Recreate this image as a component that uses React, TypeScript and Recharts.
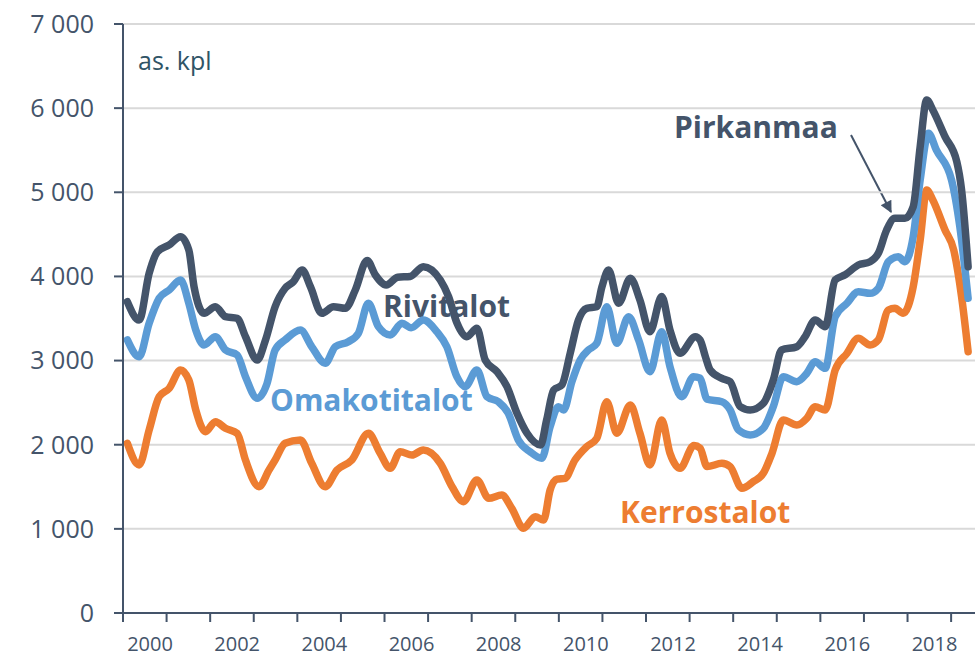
import React from 'react';
import { LineChart, Line, XAxis, YAxis, CartesianGrid } from 'recharts';

// [vuosi, asuntoja kpl], luettu kuvasta
const pirkanmaa: [number, number][] = [
  [2000.1, 3700], [2000.37, 3482], [2000.6, 4037], [2000.79, 4294], [2001.06, 4374], [2001.32, 4473],
  [2001.51, 4314], [2001.63, 3878], [2001.86, 3562], [2002.12, 3640], [2002.35, 3522], [2002.62, 3502],
  [2002.81, 3284], [2003.08, 3007], [2003.27, 3245], [2003.49, 3640], [2003.72, 3859], [2003.91, 3938],
  [2004.11, 4077], [2004.3, 3878], [2004.56, 3562], [2004.83, 3640], [2005.1, 3621], [2005.33, 3839],
  [2005.6, 4190], [2005.79, 4017], [2006.04, 3898], [2006.3, 3990], [2006.59, 4000], [2006.89, 4116],
  [2007.28, 3958], [2007.47, 3760], [2007.66, 3450], [2007.89, 3284], [2008.12, 3384], [2008.31, 3007],
  [2008.58, 2868], [2008.81, 2690], [2009.04, 2373], [2009.27, 2136], [2009.58, 1997], [2009.72, 2294],
  [2009.88, 2650], [2010.07, 2710], [2010.26, 3086], [2010.45, 3482], [2010.64, 3621], [2010.87, 3640],
  [2010.99, 3878], [2011.14, 4077], [2011.37, 3681], [2011.64, 3978], [2011.86, 3720], [2012.09, 3343],
  [2012.36, 3760], [2012.55, 3363], [2012.78, 3086], [2013.13, 3284], [2013.24, 3245], [2013.36, 3050],
  [2013.47, 2888], [2013.74, 2789], [2013.93, 2749], [2014.16, 2452], [2014.39, 2413], [2014.69, 2492],
  [2014.92, 2769], [2015.11, 3126], [2015.46, 3165], [2015.65, 3284], [2015.88, 3482], [2016.11, 3403],
  [2016.34, 3958], [2016.57, 4020], [2016.87, 4136], [2017.14, 4175], [2017.33, 4275], [2017.52, 4552],
  [2017.71, 4691], [2017.94, 4691], [2018.13, 4829], [2018.29, 5542], [2018.44, 6097], [2018.58, 5978],
  [2018.86, 5661], [2019.13, 5364], [2019.24, 5027], [2019.39, 4116],
];

const omakotitalot: [number, number][] = [
  [2000.1, 3245], [2000.37, 3046], [2000.6, 3443], [2000.83, 3740], [2001.06, 3839], [2001.32, 3958],
  [2001.51, 3681], [2001.67, 3363], [2001.86, 3185], [2002.12, 3284], [2002.35, 3126], [2002.62, 3066],
  [2002.81, 2809], [2003.08, 2552], [2003.3, 2720], [2003.49, 3126], [2003.72, 3245], [2004.07, 3363],
  [2004.33, 3165], [2004.64, 2968], [2004.87, 3165], [2005.17, 3224], [2005.4, 3324], [2005.63, 3681],
  [2005.86, 3403], [2006.13, 3304], [2006.4, 3443], [2006.61, 3390], [2006.89, 3482], [2007.2, 3343],
  [2007.43, 3165], [2007.66, 2809], [2007.85, 2690], [2008.12, 2888], [2008.35, 2571], [2008.61, 2511],
  [2008.84, 2373], [2009.07, 2056], [2009.34, 1917], [2009.61, 1838], [2009.8, 2214], [2009.99, 2452],
  [2010.11, 2413], [2010.3, 2749], [2010.49, 3007], [2010.68, 3126], [2010.87, 3205], [2011.1, 3640],
  [2011.33, 3205], [2011.6, 3522], [2011.83, 3245], [2012.09, 2868], [2012.36, 3343], [2012.55, 2927],
  [2012.82, 2571], [2013.09, 2809], [2013.24, 2790], [2013.4, 2540], [2013.74, 2511], [2013.93, 2413],
  [2014.12, 2175], [2014.39, 2116], [2014.69, 2195], [2014.92, 2452], [2015.15, 2809], [2015.46, 2749],
  [2015.69, 2849], [2015.88, 2987], [2016.11, 2908], [2016.34, 3522], [2016.61, 3681], [2016.87, 3819],
  [2017.14, 3800], [2017.33, 3859], [2017.56, 4175], [2017.79, 4235], [2017.94, 4175], [2018.13, 4473],
  [2018.29, 5146], [2018.48, 5701], [2018.66, 5503], [2019.01, 5146], [2019.2, 4591], [2019.39, 3740],
];

const kerrostalot: [number, number][] = [
  [2000.1, 2017], [2000.37, 1759], [2000.6, 2175], [2000.83, 2571], [2001.06, 2670], [2001.32, 2888],
  [2001.51, 2769], [2001.67, 2413], [2001.89, 2155], [2002.12, 2274], [2002.35, 2195], [2002.62, 2136],
  [2002.81, 1818], [2003.12, 1501], [2003.35, 1700], [2003.49, 1818], [2003.72, 2017], [2004.07, 2056],
  [2004.33, 1779], [2004.64, 1501], [2004.91, 1700], [2005.25, 1818], [2005.63, 2136], [2005.9, 1898],
  [2006.13, 1720], [2006.36, 1917], [2006.63, 1878], [2006.89, 1937], [2007.28, 1779], [2007.55, 1501],
  [2007.81, 1323], [2008.12, 1581], [2008.39, 1363], [2008.69, 1402], [2008.92, 1244], [2009.19, 1007],
  [2009.46, 1145], [2009.65, 1105], [2009.8, 1462], [2009.96, 1590], [2010.14, 1601], [2010.37, 1818],
  [2010.64, 1977], [2010.87, 2076], [2011.1, 2511], [2011.33, 2136], [2011.64, 2472], [2011.86, 2136],
  [2012.09, 1759], [2012.36, 2294], [2012.55, 1898], [2012.78, 1720], [2013.1, 1990], [2013.24, 1960],
  [2013.4, 1740], [2013.74, 1779], [2013.93, 1739], [2014.2, 1482], [2014.46, 1561], [2014.69, 1660],
  [2014.89, 1898], [2015.15, 2294], [2015.46, 2234], [2015.69, 2314], [2015.88, 2452], [2016.11, 2413],
  [2016.34, 2888], [2016.61, 3086], [2016.87, 3265], [2017.14, 3185], [2017.33, 3245], [2017.56, 3601],
  [2017.71, 3621], [2017.9, 3562], [2018.13, 3878], [2018.29, 4433], [2018.44, 5027], [2018.58, 4908],
  [2018.86, 4552], [2019.06, 4314], [2019.24, 3759], [2019.39, 3106],
];

const yearTicks = [2000, 2001, 2002, 2003, 2004, 2005, 2006, 2007, 2008, 2009, 2010, 2011, 2012, 2013, 2014, 2015, 2016, 2017, 2018, 2019];
const valueTicks = [0, 1000, 2000, 3000, 4000, 5000, 6000, 7000];

const W = 975;
const H = 656;
const DARK = '#44546a';
const BLUE = '#5b9bd5';
const ORANGE = '#ed7d31';
const FONT = '"Open Sans", sans-serif';

const toRows = (pts: [number, number][]) => pts.map(([x, v]) => ({ x, v }));

const fmtValue = (v: number) => (v === 0 ? '0' : `${v / 1000} 000`);

const YearTick = (props: any) => {
  const { x, y, payload } = props;
  if (payload.value % 2 !== 0) return <g />;
  return (
    <text x={x + 27} y={y} dy={27} textAnchor="middle" fill={DARK} fontSize={20} fontFamily={FONT}>
      {payload.value}
    </text>
  );
};

const lineProps = {
  type: 'monotone' as const,
  dataKey: 'v',
  dot: false,
  strokeWidth: 7.5,
  strokeLinecap: 'round' as const,
  strokeLinejoin: 'round' as const,
  isAnimationActive: false,
};

export default function App() {
  return (
    <div style={{ position: 'absolute', left: 0, top: 0, width: W, height: H, background: '#fff' }}>
      {/* tekstit viivojen alle */}
      <svg
        width={W}
        height={H}
        style={{ position: 'absolute', left: 0, top: 0 }}
        fontFamily={FONT}
      >
        <defs>
          <marker id="arrow" viewBox="0 0 10 10" refX="9" refY="5" markerWidth="14" markerHeight="12"
            markerUnits="userSpaceOnUse" orient="auto">
            <path d="M0,0 L10,5 L0,10 z" fill={DARK} />
          </marker>
        </defs>
        <text x={138} y={70} fontSize={25} fill="#2f5466">as. kpl</text>
        <text x={674} y={138} fontSize={30} fontWeight={700} fill={DARK}>Pirkanmaa</text>
        <text x={383} y={317} fontSize={30} fontWeight={700} fill={DARK}>Rivitalot</text>
        <text x={270} y={411} fontSize={30} fontWeight={700} fill={BLUE}>Omakotitalot</text>
        <text x={620} y={523} fontSize={30} fontWeight={700} fill={ORANGE}>Kerrostalot</text>
        <line x1={851} y1={135} x2={891} y2={212} stroke={DARK} strokeWidth={2} markerEnd="url(#arrow)" />
      </svg>
      <div style={{ position: 'absolute', left: 0, top: 0 }}>
        <LineChart width={W} height={H} margin={{ top: 24, right: 0, bottom: 0, left: 0 }}>
          <CartesianGrid vertical={false} stroke="#d9d9d9" strokeWidth={2} />
          <XAxis
            type="number"
            dataKey="x"
            domain={[2000, 2019.548]}
            ticks={yearTicks}
            interval={0}
            allowDataOverflow
            height={43}
            tickSize={9}
            axisLine={{ stroke: DARK, strokeWidth: 2 }}
            tickLine={{ stroke: DARK, strokeWidth: 2 }}
            tick={YearTick}
          />
          <YAxis
            type="number"
            domain={[0, 7000]}
            ticks={valueTicks}
            interval={0}
            width={123}
            tickSize={9}
            tickMargin={20}
            tickFormatter={fmtValue}
            axisLine={{ stroke: DARK, strokeWidth: 2 }}
            tickLine={{ stroke: DARK, strokeWidth: 2 }}
            tick={{ fill: DARK, fontSize: 25, fontFamily: FONT }}
          />
          <Line {...lineProps} data={toRows(kerrostalot)} stroke={ORANGE} name="Kerrostalot" />
          <Line {...lineProps} data={toRows(omakotitalot)} stroke={BLUE} name="Omakotitalot" />
          <Line {...lineProps} data={toRows(pirkanmaa)} stroke={DARK} name="Pirkanmaa" />
        </LineChart>
      </div>
    </div>
  );
}
